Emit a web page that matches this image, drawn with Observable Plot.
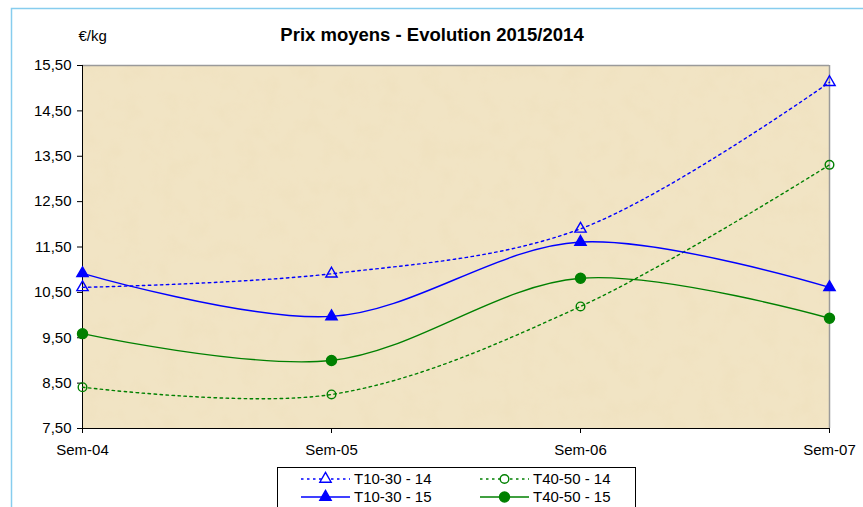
<!DOCTYPE html>
<html><head><meta charset="utf-8">
<script src="https://cdn.jsdelivr.net/npm/d3@7"></script>
<script src="https://cdn.jsdelivr.net/npm/@observablehq/plot@0.6"></script>
<style>
html,body{margin:0;padding:0;background:#fff;}
#chart{position:absolute;left:0;top:0;}
</style></head>
<body><div id="chart"></div>
<script>
const weeks = ["Sem-04", "Sem-05", "Sem-06", "Sem-07"];
const seriesNames = ["T10-30 - 14", "T40-50 - 14", "T10-30 - 15", "T40-50 - 15"];
const t1030_14 = [10.61, 10.91, 11.90, 15.13];
const t4050_14 = [8.41, 8.25, 10.19, 13.31];
const t1030_15 = [10.92, 9.97, 11.61, 10.61];
const t4050_15 = [9.59, 9.00, 10.81, 9.93];
const yTicks = [7.5, 8.5, 9.5, 10.5, 11.5, 12.5, 13.5, 14.5, 15.5];
const titleText = "Prix moyens - Evolution 2015/2014";
const unitText = "€/kg";

const styles = {
  "T10-30 - 14": {color: "#0000ff", dash: "2.5,3.5", symbol: "triangle", fill: "none", r: 4.2},
  "T40-50 - 14": {color: "#008000", dash: "2.5,3.5", symbol: "circle", fill: "none", r: 4.3},
  "T10-30 - 15": {color: "#0000ff", dash: null, symbol: "triangle", fill: "#0000ff", r: 4.2},
  "T40-50 - 15": {color: "#008000", dash: null, symbol: "circle", fill: "#008000", r: 5}
};
const valuesBySeries = {
  "T10-30 - 14": t1030_14, "T40-50 - 14": t4050_14,
  "T10-30 - 15": t1030_15, "T40-50 - 15": t4050_15
};
const rows = seriesNames.flatMap(s => weeks.map((w, i) => ({series: s, week: w, value: valuesBySeries[s][i]})));
const fmt = v => d3.format(".2f")(v).replace(".", ",");
const FONT = "'Liberation Sans', Arial, sans-serif";

const lineMarks = seriesNames.flatMap(s => {
  const st = styles[s];
  const data = rows.filter(d => d.series === s);
  return [
    Plot.line(data, {x: "week", y: "value", stroke: st.color, strokeWidth: 1.4,
      strokeDasharray: st.dash, curve: "catmull-rom"}),
    Plot.dot(data, {x: "week", y: "value", symbol: st.symbol, r: st.r,
      stroke: st.color, strokeWidth: 1.4, fill: st.fill})
  ];
});

const plot = Plot.plot({
  width: 863, height: 507,
  marginLeft: 82, marginRight: 34, marginTop: 65, marginBottom: 79,
  style: {fontFamily: FONT, fontSize: "15px", color: "#000", background: "transparent"},
  x: {type: "point", domain: weeks, padding: 0, label: null},
  y: {domain: [7.5, 15.5], label: null},
  marks: [
    Plot.frame({fill: "#f1e4c4", stroke: null}),
    Plot.ruleY([15.5], {stroke: "#9a9a9a", strokeWidth: 1.5}),
    Plot.ruleX([weeks[weeks.length - 1]], {stroke: "#9a9a9a", strokeWidth: 1.5}),
    Plot.ruleX([weeks[0]], {stroke: "#000", strokeWidth: 1}),
    Plot.ruleY([7.5], {stroke: "#000", strokeWidth: 1}),
    Plot.axisY({ticks: yTicks, tickFormat: fmt, tickSize: 5, tickPadding: 6, label: null, fontSize: 15}),
    Plot.axisX({tickSize: 5, tickPadding: 11, label: null, fontSize: 15}),
    ...lineMarks,
    Plot.text([titleText], {frameAnchor: "top", lineAnchor: "middle", dx: -24, dy: -30, fontWeight: "bold", fontSize: 18.5}),
    Plot.text([unitText], {frameAnchor: "top-left", lineAnchor: "middle", textAnchor: "start", dx: -4, dy: -29, fontSize: 15})
  ]
});
document.getElementById("chart").appendChild(plot);

const svg = d3.select(plot);
// ensure axis tick labels use the intended size
svg.selectAll('[aria-label="y-axis tick label"], [aria-label="x-axis tick label"]')
  .attr("font-size", 15).style("font-size", "15px");
svg.selectAll('[aria-label="y-axis tick label"] text, [aria-label="x-axis tick label"] text')
  .style("font-size", "15px");

// texture filter for the parchment background
const defs = svg.insert("defs", ":first-child");
const f = defs.append("filter").attr("id", "parch").attr("x", 0).attr("y", 0).attr("width", 1).attr("height", 1);
f.append("feTurbulence").attr("type", "fractalNoise").attr("baseFrequency", "0.05").attr("numOctaves", 4).attr("seed", 3);
f.append("feColorMatrix").attr("type", "matrix")
  .attr("values", "0 0 0 0 0.86  0 0 0 0 0.74  0 0 0 0 0.50  1.0 0 0 0 -0.42");
f.append("feComposite").attr("in2", "SourceGraphic").attr("operator", "in");
const frameEl = plot.querySelector('[aria-label="frame"]');
const frameRect = frameEl && (frameEl.tagName === "rect" ? frameEl : frameEl.querySelector("rect"));
if (frameRect) {
  const tex = document.createElementNS("http://www.w3.org/2000/svg", "rect");
  ["x", "y", "width", "height"].forEach(a => tex.setAttribute(a, frameRect.getAttribute(a)));
  tex.setAttribute("fill", "#f1e4c4");
  tex.setAttribute("filter", "url(#parch)");
  frameRect.parentNode.insertBefore(tex, frameRect.nextSibling);
}

// outer light blue frame
svg.append("rect").attr("x", 11.5).attr("y", 8.5).attr("width", 900).attr("height", 600)
  .attr("fill", "none").attr("stroke", "#87cdee").attr("stroke-width", 1.5);

// legend
const lg = svg.append("g").attr("font-family", FONT).attr("font-size", 15).attr("text-anchor", "start");
lg.append("rect").attr("x", 277.5).attr("y", 467.5).attr("width", 358).attr("height", 60)
  .attr("fill", "#fff").attr("stroke", "#000").attr("stroke-width", 1);
const legendPos = {
  "T10-30 - 14": [301, 479], "T40-50 - 14": [480, 479],
  "T10-30 - 15": [301, 497], "T40-50 - 15": [480, 497]
};
seriesNames.forEach(s => {
  const st = styles[s];
  const [x0, y] = legendPos[s];
  lg.append("line").attr("x1", x0).attr("x2", x0 + 49).attr("y1", y).attr("y2", y)
    .attr("stroke", st.color).attr("stroke-width", 1.4).attr("stroke-dasharray", st.dash);
  const sym = st.symbol === "triangle" ? d3.symbolTriangle : d3.symbolCircle;
  lg.append("path").attr("d", d3.symbol(sym, Math.PI * st.r * st.r)())
    .attr("transform", `translate(${x0 + 24.5},${y})`)
    .attr("fill", st.fill === "none" ? "#fff" : st.fill).attr("stroke", st.color).attr("stroke-width", 1.4);
  lg.append("text").attr("x", x0 + 53).attr("y", y).attr("dy", "0.35em").attr("text-anchor", "start").text(s);
});
</script>
</body></html>
